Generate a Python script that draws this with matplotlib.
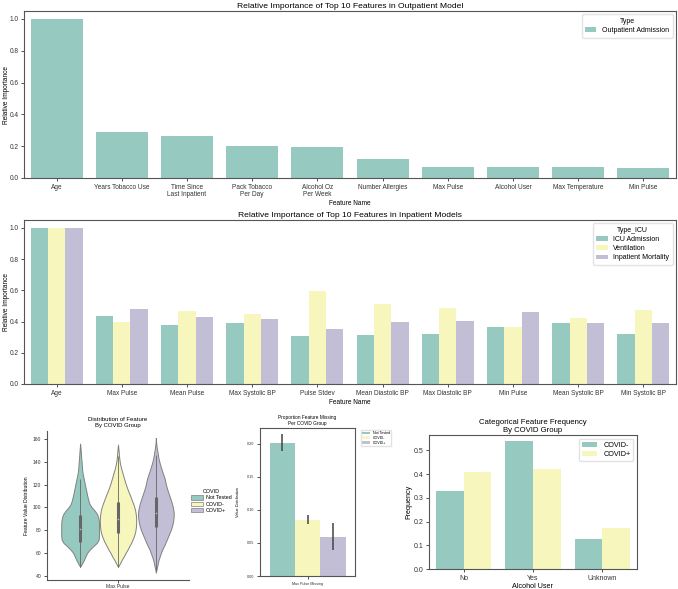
import numpy as np
import matplotlib
matplotlib.use("Agg")
import matplotlib.pyplot as plt
from matplotlib.patches import Patch

NARROW = ['Liberation Sans Narrow', 'Liberation Sans', 'DejaVu Sans']
REG = ['Liberation Sans', 'DejaVu Sans']
plt.rcParams['font.family'] = NARROW
plt.rcParams['axes.edgecolor'] = '#555555'
plt.rcParams['axes.linewidth'] = 0.8

TEAL = '#96cac1'
YELLOW = '#f6f6bd'
PURPLE = '#c1bed6'

# ---- data: outpatient model
out_features = ['Age', 'Years Tobacco Use', 'Time Since\nLast Inpatient', 'Pack Tobacco\nPer Day',
                'Alcohol Oz\nPer Week', 'Number Allergies', 'Max Pulse', 'Alcohol User',
                'Max Temperature', 'Min Pulse']
out_importance = [1.0, 0.291, 0.262, 0.203, 0.192, 0.121, 0.071, 0.071, 0.067, 0.063]

# ---- data: inpatient models
in_features = ['Age', 'Max Pulse', 'Mean Pulse', 'Max Systolic BP', 'Pulse Stdev',
               'Mean Diastolic BP', 'Max Diastolic BP', 'Min Pulse', 'Mean Systolic BP',
               'Min Systolic BP']
icu_importance = [1.0, 0.436, 0.376, 0.393, 0.307, 0.313, 0.319, 0.366, 0.393, 0.319]
vent_importance = [1.0, 0.400, 0.465, 0.450, 0.598, 0.512, 0.488, 0.366, 0.421, 0.476]
mort_importance = [1.0, 0.478, 0.431, 0.416, 0.351, 0.400, 0.406, 0.459, 0.389, 0.393]
in_types = ['ICU Admission', 'Ventilation', 'Inpatient Mortality']

# ---- data: violin (value, relative density)
covid_groups = ['Not Tested', 'COVID-', 'COVID+']
nt_vals = [48, 51, 54, 57, 60, 63, 66, 69, 72, 76, 80, 84, 88, 91, 94, 97, 100, 103, 106, 110,
           114, 118, 122, 126, 130, 134, 139, 145, 150, 156]
nt_dens = [0.0, 0.1, 0.2, 0.28, 0.36, 0.5, 0.68, 0.88, 0.98, 1.0, 1.0, 1.0, 0.99, 0.96, 0.9,
           0.78, 0.62, 0.5, 0.44, 0.38, 0.33, 0.28, 0.23, 0.18, 0.13, 0.1, 0.08, 0.05, 0.03, 0.0]
neg_vals = [48, 51, 54, 57, 60, 63, 66, 70, 74, 78, 82, 86, 90, 94, 98, 102, 106, 110, 114,
            118, 122, 126, 130, 134, 139, 144, 150, 155]
neg_dens = [0.0, 0.1, 0.19, 0.3, 0.39, 0.5, 0.59, 0.72, 0.82, 0.9, 0.94, 0.96, 0.96, 0.94,
            0.9, 0.83, 0.74, 0.65, 0.55, 0.46, 0.38, 0.31, 0.24, 0.17, 0.1, 0.06, 0.03, 0.0]
pos_vals = [43, 47, 51, 54, 58, 63, 67, 72, 76, 80, 84, 88, 92, 96, 100, 104, 108, 112, 116,
            120, 125, 130, 135, 139, 143, 147, 152, 156, 161]
pos_dens = [0.0, 0.05, 0.1, 0.14, 0.22, 0.33, 0.45, 0.58, 0.68, 0.78, 0.86, 0.91, 0.94, 0.94,
            0.9, 0.84, 0.76, 0.68, 0.6, 0.53, 0.47, 0.37, 0.27, 0.2, 0.14, 0.1, 0.05, 0.02, 0.0]
box_q1 = [70, 77.5, 82.5]
box_med = [81, 89.5, 95]
box_q3 = [93, 105, 109.5]
whisk_lo = [48, 48, 45]
whisk_hi = [125, 145, 146]

# ---- data: proportion missing
missing_prop = [0.202, 0.085, 0.059]
missing_lo = [0.189, 0.079, 0.039]
missing_hi = [0.215, 0.092, 0.080]

# ---- data: categorical frequency
alcohol_cats = ['No', 'Yes', 'Unknown']
freq_neg = [0.330, 0.540, 0.127]
freq_pos = [0.407, 0.420, 0.172]

W, H = 678, 589
fig = plt.figure(figsize=(W / 100, H / 100), dpi=100)


def box(l, t, r, b):
    return [l / W, 1 - b / H, (r - l) / W, (b - t) / H]


def style_ticks(ax, fs):
    ax.tick_params(labelsize=fs, length=2.5, width=0.6, pad=1.5, colors='#333333')


TICK_FS = 4.7
TITLE_FS = 6.1
LEG = dict(loc='upper right', fontsize=5.0, title_fontsize=5.0, handlelength=1.6,
           handleheight=0.6, borderpad=0.5, labelspacing=0.3, fancybox=True,
           edgecolor='#dddddd')

# top chart
ax1 = fig.add_axes(box(24, 11, 676, 178))
x = np.arange(len(out_features))
ax1.bar(x, out_importance, 0.8, color=TEAL, label='Outpatient Admission')
ax1.set_xlim(-0.5, 9.5)
ax1.set_ylim(0, 1.05)
ax1.set_xticks(x)
ax1.set_xticklabels(out_features, linespacing=1.1)
style_ticks(ax1, TICK_FS)
ax1.set_title('Relative Importance of Top 10 Features in Outpatient Model', fontsize=TITLE_FS,
              pad=2.5)
ax1.set_ylabel('Relative Importance', fontsize=TICK_FS)
ax1.yaxis.set_label_coords(-0.021, 0.5)
ax1.set_xlabel('Feature Name', fontsize=TICK_FS, labelpad=1.5)
ax1.legend(title='Type', **LEG)

# inpatient chart
ax2 = fig.add_axes(box(24, 220, 676, 384))
bw = 0.8 / 3
for i, (vals, col) in enumerate(zip([icu_importance, vent_importance, mort_importance],
                                    [TEAL, YELLOW, PURPLE])):
    ax2.bar(x + (i - 1) * bw, vals, bw, color=col, label=in_types[i])
ax2.set_xlim(-0.5, 9.5)
ax2.set_ylim(0, 1.05)
ax2.set_xticks(x)
ax2.set_xticklabels(in_features)
style_ticks(ax2, TICK_FS)
ax2.set_title('Relative Importance of Top 10 Features in Inpatient Models', fontsize=TITLE_FS,
              pad=2.5)
ax2.set_ylabel('Relative Importance', fontsize=TICK_FS)
ax2.yaxis.set_label_coords(-0.021, 0.5)
ax2.set_xlabel('Feature Name', fontsize=TICK_FS, labelpad=1.5)
ax2.legend(title='Type_ICU', **LEG)

# violin plot
ax3 = fig.add_axes(box(47, 431, 189, 580))
half = 0.8 / 3 / 2
profiles = [(nt_vals, nt_dens), (neg_vals, neg_dens), (pos_vals, pos_dens)]
for i, ((vals, dens), col) in enumerate(zip(profiles, [TEAL, YELLOW, PURPLE])):
    c = (i - 1) * bw
    d = np.array(dens) * half
    ax3.fill_betweenx(vals, c - d, c + d, facecolor=col, edgecolor='#808080', linewidth=0.7)
    ax3.plot([c, c], [whisk_lo[i], whisk_hi[i]], color='#666666', lw=0.6, solid_capstyle='butt')
    ax3.plot([c, c], [box_q1[i], box_q3[i]], color='#666666', lw=2.2, solid_capstyle='butt')
    ax3.plot([c], [box_med[i]], 'o', ms=1.2, mfc='#bbbbbb', mec='none')
ax3.set_xlim(-0.5, 0.5)
ax3.set_ylim(36.5, 167)
ax3.set_yticks(np.arange(40, 161, 20))
ax3.set_xticks([0])
ax3.set_xticklabels(['Max Pulse'], family=REG)
for lab in ax3.get_yticklabels():
    lab.set_family(REG)
style_ticks(ax3, 3.6)
ax3.tick_params(axis='x', pad=0.5)
ax3.spines['top'].set_visible(False)
ax3.spines['right'].set_visible(False)
ax3.set_title('Distribution of Feature\nBy COVID Group', fontsize=4.3, pad=3, family=REG,
              linespacing=1.2)
ax3.set_ylabel('Feature Value Distribution', fontsize=3.6, labelpad=3, family=REG)
handles = [Patch(facecolor=c, edgecolor='#808080', linewidth=0.5) for c in [TEAL, YELLOW, PURPLE]]
fig.legend(handles, covid_groups, title='COVID', loc='center left',
           bbox_to_anchor=(186 / W, 1 - 501 / H), frameon=False,
           prop={'family': REG, 'size': 3.9}, title_fontproperties={'family': REG, 'size': 3.9},
           handlelength=2.2, handleheight=0.8, labelspacing=0.25, handletextpad=0.5)

# proportion missing
ax4 = fig.add_axes(box(260, 428, 355, 576))
gx = np.array([-bw, 0, bw])
ax4.bar(gx, missing_prop, bw, color=[TEAL, YELLOW, PURPLE])
ax4.vlines(gx, missing_lo, missing_hi, color='#444444', lw=1.1)
ax4.set_xlim(-0.5, 0.5)
ax4.set_ylim(0, 0.224)
ax4.set_yticks([0, 0.05, 0.10, 0.15, 0.20])
ax4.set_yticklabels(['0.00', '0.05', '0.10', '0.15', '0.20'], family=REG)
ax4.set_xticks([0])
ax4.set_xticklabels(['Max Pulse Missing'], family=REG)
style_ticks(ax4, 2.7)
ax4.set_title('Proportion Feature Missing\nPer COVID Group', fontsize=3.4, pad=2, family=REG,
              linespacing=1.2)
ax4.set_ylabel('Value Distribution', fontsize=2.8, labelpad=5, family=REG)
ax4.legend([Patch(facecolor=c) for c in [TEAL, YELLOW, PURPLE]], covid_groups,
           loc='upper left', bbox_to_anchor=(1.04, 1.0), prop={'family': REG, 'size': 2.6},
           handlelength=2.2, handleheight=0.8, labelspacing=0.2, borderpad=0.4,
           edgecolor='#dddddd', fancybox=True)

# categorical frequency
ax5 = fig.add_axes(box(429, 435, 637, 569))
cx = np.arange(len(alcohol_cats))
ax5.bar(cx - 0.2, freq_neg, 0.4, color=TEAL, label='COVID-')
ax5.bar(cx + 0.2, freq_pos, 0.4, color=YELLOW, label='COVID+')
ax5.set_xlim(-0.5, 2.5)
ax5.set_ylim(0, 0.565)
ax5.set_xticks(cx)
ax5.set_xticklabels(alcohol_cats, family=REG)
ax5.set_yticks([0, 0.1, 0.2, 0.3, 0.4, 0.5])
ax5.set_yticklabels(['0.0', '0.1', '0.2', '0.3', '0.4', '0.5'], family=REG)
style_ticks(ax5, 5)
ax5.set_title('Categorical Feature Frequency\nBy COVID Group', fontsize=5.6, pad=2, family=REG,
              linespacing=1.15)
ax5.set_xlabel('Alcohol User', fontsize=5.2, labelpad=1, family=REG)
ax5.set_ylabel('Frequency', fontsize=5.2, labelpad=1, family=REG)
ax5.legend(loc='upper right', prop={'family': REG, 'size': 5.2}, handlelength=2.2,
           labelspacing=0.3, borderpad=0.4, edgecolor='#dddddd')

fig.savefig('out.png', dpi=100)
